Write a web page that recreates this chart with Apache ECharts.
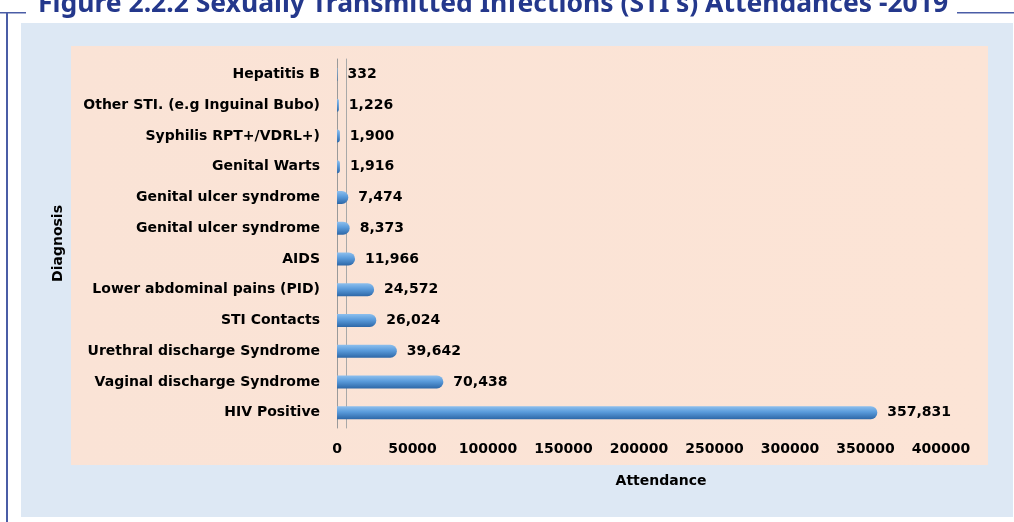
<!DOCTYPE html>
<html><head><meta charset="utf-8">
<script src="https://cdn.jsdelivr.net/npm/echarts@6/dist/echarts.min.js"></script>
<style>html,body{margin:0;padding:0;background:#fff}#c{width:1014px;height:522px}</style>
</head><body><div id="c"></div>
<script>
const categories = ["Hepatitis B","Other STI. (e.g Inguinal Bubo)","Syphilis RPT+/VDRL+)","Genital Warts","Genital ulcer syndrome","Genital ulcer syndrome","AIDS","Lower abdominal pains (PID)","STI Contacts","Urethral discharge Syndrome","Vaginal discharge Syndrome","HIV Positive"];
const attendance = [332,1226,1900,1916,7474,8373,11966,24572,26024,39642,70438,357831];
const xTicks = {min:0, max:400000, interval:50000};
const titleText = "Figure 2.2.2 Sexually Transmitted Infections (STI's) Attendances -2019";

const chart = echarts.init(document.getElementById('c'));
const FONT = "'DejaVu Sans', 'Noto Sans', sans-serif";
chart.setOption({
  animation:false,
  graphic:[
    {type:'rect', z:-10, shape:{x:21,y:23,width:992,height:494}, style:{fill:'#DDE8F4'}},
    {type:'rect', z:-9, shape:{x:71,y:46,width:917,height:419}, style:{fill:new echarts.graphic.LinearGradient(0,0,1,0,[{offset:0,color:'#FAE3D6'},{offset:1,color:'#FCE4D6'}])}},
    {type:'rect', shape:{x:6,y:12,width:2,height:510}, style:{fill:'#4A5DA6'}},
    {type:'rect', shape:{x:0,y:12,width:26,height:1.5}, style:{fill:'#4A5DA6'}},
    {type:'rect', shape:{x:957,y:12,width:57,height:1.5}, style:{fill:'#4A5DA6'}},
    {type:'text', left:38, top:-9, style:{text:titleText, fill:'#24388C', font:"bold 26.5px 'Noto Sans', sans-serif"}}
  ],
  grid:{left:337, right:73, top:59, bottom:94, containLabel:false},
  xAxis:{type:'value', min:xTicks.min, max:xTicks.max, interval:xTicks.interval,
    name:'Attendance', nameLocation:'middle', nameGap:46,
    nameTextStyle:{fontFamily:FONT, fontWeight:'bold', fontSize:14, color:'#000', padding:[0,0,0,44]},
    axisLine:{show:false}, axisTick:{show:false}, splitLine:{show:false},
    axisLabel:{fontFamily:FONT, fontWeight:'bold', fontSize:14, color:'#000', margin:14, formatter:v=>String(v)}},
  yAxis:[{type:'category', data:categories, inverse:true,
    name:'Diagnosis', nameLocation:'middle', nameGap:272, nameRotate:90,
    nameTextStyle:{fontFamily:FONT, fontWeight:'bold', fontSize:14, color:'#000'},
    axisLine:{show:true, lineStyle:{color:'#9A9A9A', width:1}}, axisTick:{show:false},
    axisLabel:{fontFamily:FONT, fontWeight:'bold', fontSize:14, color:'#000', margin:17}},
    {type:'category', data:categories, inverse:true, position:'left', offset:-9,
     axisLine:{show:true, lineStyle:{color:'#A8A8A8', width:1}}, axisTick:{show:false}, axisLabel:{show:false}}
  ],
  series:[{type:'bar', data:attendance, barWidth:13,
    itemStyle:{borderRadius:[0,6.5,6.5,0],
      color:new echarts.graphic.LinearGradient(0,0,0,1,[{offset:0,color:'#8EC0EE'},{offset:0.45,color:'#5A9BDB'},{offset:1,color:'#2E68A8'}])},
    label:{show:true, position:'right', distance:10, fontFamily:FONT, fontWeight:'bold', fontSize:14, color:'#000',
      formatter:p=>p.value.toLocaleString('en-US')}
  }]
});
</script></body></html>
